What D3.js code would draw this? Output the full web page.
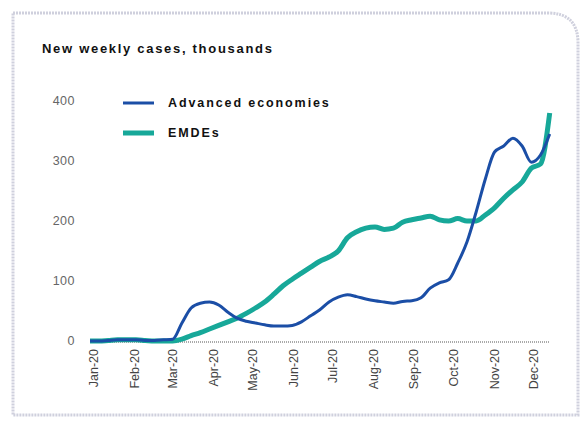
<!DOCTYPE html>
<html>
<head>
<meta charset="utf-8">
<script src="https://cdn.jsdelivr.net/npm/d3@7"></script>
<style>
  body { margin: 0; background: #fff; }
  svg { display: block; font-family: "Liberation Sans", Arial, sans-serif; }
</style>
</head>
<body>
<div id="chart"></div>
<script type="text/javascript">
// weekly observations, first week starting 1 Jan 2020
var startDay = new Date(2020, 0, 1);
var advanced = [0, 0, 1, 2, 2, 2, 1, 1, 2, 3,
                30, 55, 63, 65, 60, 48, 38, 33, 30, 27,
                25, 25, 26, 32, 42, 52, 65, 73, 77, 74,
                70, 67, 65, 63, 66, 67, 72, 88, 97, 102,
                130, 165, 215, 270, 315, 325, 338, 325, 298, 310, 345];
var emdes = [0, 0, 1, 2, 2, 2, 1, 0, 0, 0,
             3, 9, 14, 20, 26, 32, 38, 46, 55, 65,
             78, 92, 103, 113, 123, 133, 140, 150, 172, 182,
             188, 190, 186, 188, 198, 202, 205, 208, 202, 200,
             204, 200, 200, 210, 222, 238, 252, 265, 288, 295, 380];
var yTicks = [0, 100, 200, 300, 400];
var seriesNames = ["Advanced economies", "EMDEs"];
var seriesColors = ["#1b4ea6", "#17a899"];
var titleText = "New weekly cases, thousands";

var W = 581, H = 421;

var svg = d3.select("#chart").append("svg")
    .attr("width", W)
    .attr("height", H);

// dotted frame with rounded top-right corner
var fx0 = 13, fy0 = 13, fx1 = 578, fy1 = 415, r = 30;
svg.append("path")
    .attr("d", "M" + fx0 + "," + fy0 + " L" + (fx1 - r) + "," + fy0 +
               " Q" + fx1 + "," + fy0 + " " + fx1 + "," + (fy0 + r) +
               " L" + fx1 + "," + fy1 + " L" + fx0 + "," + fy1 + " Z")
    .attr("fill", "none")
    .attr("stroke", "#cfd0dd")
    .attr("stroke-width", 3)
    .attr("stroke-dasharray", "2,1");

var x = d3.scaleTime()
    .domain([new Date(2020, 0, 1), new Date(2020, 11, 1)])
    .range([90, 530]);
var y = d3.scaleLinear()
    .domain([0, 400])
    .range([341, 101]);

var dates = advanced.map(function(d, i) { return d3.timeDay.offset(startDay, 7 * i); });

svg.append("text")
    .attr("x", 42)
    .attr("y", 53)
    .attr("font-size", 13)
    .attr("font-weight", "bold")
    .attr("letter-spacing", 1.7)
    .attr("fill", "#111")
    .text(titleText);

// y axis labels
svg.selectAll(".ylab")
    .data(yTicks)
  .enter().append("text")
    .attr("class", "ylab")
    .attr("x", 75)
    .attr("y", function(d) { return y(d); })
    .attr("dy", "0.35em")
    .attr("text-anchor", "end")
    .attr("font-size", 12.5)
    .attr("letter-spacing", 0.5)
    .attr("fill", "#666")
    .text(function(d) { return d; });

// x axis
var xAxis = d3.axisBottom(x)
    .ticks(d3.timeMonth.every(1))
    .tickFormat(d3.timeFormat("%b-%y"))
    .tickSize(0);

var gx = svg.append("g")
    .attr("transform", "translate(0," + y(0) + ")")
    .call(xAxis);
gx.select(".domain").remove();
gx.selectAll("text")
    .attr("transform", "rotate(-90)")
    .attr("text-anchor", "end")
    .attr("x", -8)
    .attr("y", 0)
    .attr("dy", "0.6em")
    .attr("font-size", 12.5)
    .attr("font-family", "Liberation Sans, Arial, sans-serif")
    .attr("fill", "#444");

// dotted zero line
svg.append("line")
    .attr("x1", 90)
    .attr("x2", 549)
    .attr("y1", y(0) + 1)
    .attr("y2", y(0) + 1)
    .attr("stroke", "#555")
    .attr("stroke-width", 1)
    .attr("stroke-dasharray", "1,1");

var line = d3.line()
    .x(function(d, i) { return x(dates[i]); })
    .y(function(d) { return y(d); })
    .curve(d3.curveMonotoneX);

svg.append("path")
    .datum(emdes)
    .attr("d", line)
    .attr("fill", "none")
    .attr("stroke", seriesColors[1])
    .attr("stroke-width", 5)
    .attr("stroke-linejoin", "round");

svg.append("path")
    .datum(advanced)
    .attr("d", line)
    .attr("fill", "none")
    .attr("stroke", seriesColors[0])
    .attr("stroke-width", 3)
    .attr("stroke-linejoin", "round");

// legend
var legendY = [103, 133];
var legendW = [3, 5];
var lg = svg.selectAll(".lg")
    .data(seriesNames)
  .enter().append("g")
    .attr("class", "lg")
    .attr("transform", function(d, i) { return "translate(123," + legendY[i] + ")"; });
lg.append("line")
    .attr("x1", 0)
    .attr("x2", 31)
    .attr("stroke", function(d, i) { return seriesColors[i]; })
    .attr("stroke-width", function(d, i) { return legendW[i]; });
lg.append("text")
    .attr("x", 45)
    .attr("dy", "0.35em")
    .attr("font-size", 12.5)
    .attr("font-weight", "bold")
    .attr("letter-spacing", 1.9)
    .attr("fill", "#111")
    .text(function(d) { return d; });
</script>
</body>
</html>
